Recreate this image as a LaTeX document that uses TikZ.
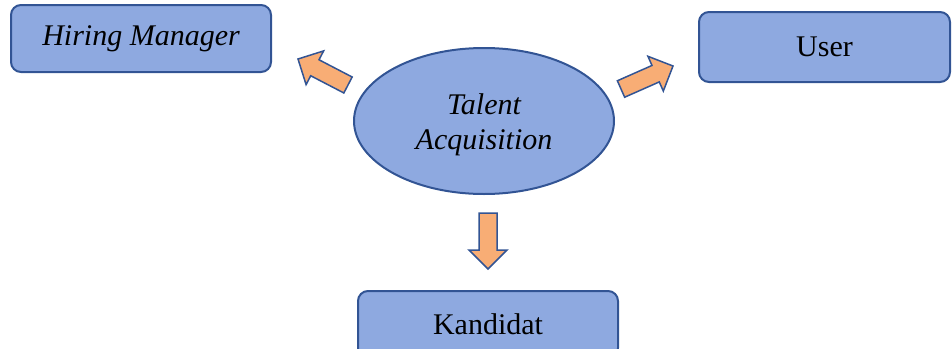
\documentclass[tikz,border=0pt]{standalone}
\usepackage{fontspec}
\setmainfont{Liberation Serif}
\usetikzlibrary{calc,shapes.geometric}

\definecolor{boxfill}{RGB}{142,169,224}
\definecolor{boxline}{RGB}{50,84,148}
\definecolor{arrowfill}{RGB}{248,173,117}

\tikzset{
  rolebox/.style={draw=boxline, fill=boxfill, line width=2pt,
    rounded corners=10pt, inner sep=0pt,
    font=\fontsize{30}{36}\selectfont},
  centre/.style={draw=boxline, fill=boxfill, line width=2pt, ellipse,
    inner sep=0pt, minimum width=260pt, minimum height=146pt,
    label={[align=center, yshift=-4pt,
      font=\fontsize{30}{35}\selectfont\itshape]center:#1}},
  blockarrow/.style={draw=boxline, fill=arrowfill, line width=1.5pt,
    line join=miter},
}

% block arrow from a tail point #1 to a tip point #2
\newcommand\blockarrow[2]{%
  \coordinate (#1-h) at ($(#2)!19pt!(#1)$);
  \draw[blockarrow]
    ($(#1)!9pt!90:(#2)$) -- ($(#1-h)!9pt!90:(#2)$) --
    ($(#1-h)!19pt!90:(#2)$) -- (#2) --
    ($(#1-h)!19pt!-90:(#2)$) -- ($(#1-h)!9pt!-90:(#2)$) --
    ($(#1)!9pt!-90:(#2)$) -- cycle;
}

\begin{document}
\begin{tikzpicture}[x=1pt, y=-1pt]
  \useasboundingbox (0,0) rectangle (952,348);

  \node[rolebox, minimum width=260pt, minimum height=67pt] (hm) at (141,38.5)
    {\itshape Hiring Manager};
  \node[rolebox, minimum width=251pt, minimum height=70pt] (user) at (824.5,47)
    {User};
  \node[rolebox, minimum width=260pt, minimum height=67pt] (kand) at (488,324.5)
    {Kandidat};
  \node[centre={Talent\\Acquisition}] (ta) at (484,121) {};

  % arrows pointing from the centre to each role
  \coordinate (tl) at (348,85);  \coordinate (hl) at (298,59);
  \coordinate (tr) at (621,89);  \coordinate (hr) at (673,66);
  \coordinate (td) at (488,213); \coordinate (hd) at (488,269);
  \blockarrow{tl}{hl}
  \blockarrow{tr}{hr}
  \blockarrow{td}{hd}
\end{tikzpicture}
\end{document}
